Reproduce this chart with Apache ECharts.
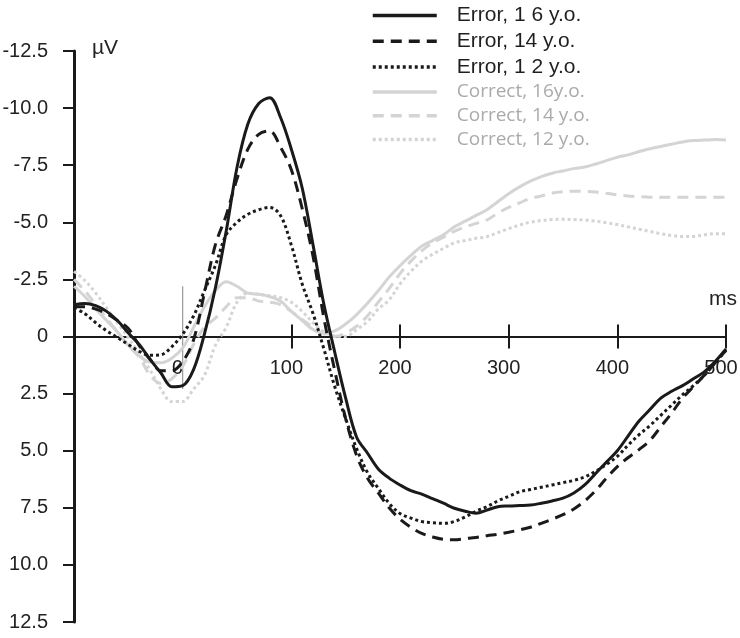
<!DOCTYPE html>
<html><head><meta charset="utf-8">
<script src="https://cdn.jsdelivr.net/npm/echarts@6/dist/echarts.min.js"></script>
<style>html,body{margin:0;padding:0;background:#fff}#c{width:740px;height:638px}</style>
</head><body><div id="c"></div>
<script>
const times = [-100,-90,-80,-70,-60,-50,-40,-30,-20,-10,0,10,20,30,40,50,60,70,80,90,100,110,120,130,140,150,160,170,180,190,200,210,220,230,240,250,260,270,280,290,300,310,320,330,340,350,360,370,380,390,400,410,420,430,440,450,460,470,480,490,500];
const error16 = [-1.4,-1.45,-1.35,-1.1,-0.7,-0.15,0.35,1.0,1.6,2.2,2.15,1.45,-0.1,-2.1,-4.6,-7.4,-9.3,-10.2,-10.45,-9.6,-8.2,-6.5,-4.0,-1.4,0.7,2.7,4.4,5.1,5.8,6.2,6.5,6.75,6.9,7.1,7.3,7.52,7.65,7.74,7.6,7.45,7.42,7.4,7.38,7.3,7.2,7.08,6.85,6.5,6.0,5.5,5.0,4.35,3.7,3.2,2.7,2.4,2.15,1.85,1.55,1.1,0.55];
const error14 = [-1.3,-1.3,-1.2,-1.0,-0.7,-0.35,0.4,1.0,1.5,1.5,1.1,0.15,-1.9,-4.0,-5.3,-6.9,-8.2,-8.85,-9.0,-8.3,-7.3,-5.6,-3.5,-0.8,1.5,3.6,5.2,6.2,6.85,7.5,8.0,8.35,8.62,8.78,8.88,8.9,8.85,8.8,8.72,8.66,8.57,8.47,8.35,8.18,8.0,7.8,7.55,7.2,6.75,6.2,5.7,5.3,4.95,4.55,3.95,3.35,2.7,2.2,1.7,1.15,0.6];
const error12 = [-1.25,-1.0,-0.6,-0.25,0.05,0.35,0.65,0.82,0.8,0.45,-0.1,-0.9,-2.0,-3.1,-4.45,-5.0,-5.35,-5.55,-5.65,-5.3,-4.0,-2.3,-1.0,0.55,2.2,3.6,4.9,5.95,6.65,7.3,7.75,7.95,8.1,8.15,8.18,8.1,7.9,7.65,7.45,7.2,7.0,6.8,6.7,6.6,6.5,6.4,6.3,6.15,5.9,5.6,5.25,4.75,4.3,3.9,3.45,3.0,2.55,2.15,1.7,1.15,0.6];
const correct16 = [-2.2,-1.75,-1.2,-0.7,-0.2,0.38,0.85,1.12,1.15,0.95,0.5,-0.4,-1.3,-2.0,-2.4,-2.2,-1.9,-1.85,-1.75,-1.55,-1.1,-0.7,-0.3,-0.15,-0.25,-0.55,-0.95,-1.45,-2.0,-2.6,-3.1,-3.55,-3.95,-4.2,-4.45,-4.8,-5.05,-5.3,-5.55,-5.9,-6.25,-6.55,-6.8,-7.0,-7.15,-7.25,-7.35,-7.42,-7.55,-7.7,-7.85,-7.95,-8.1,-8.22,-8.32,-8.42,-8.52,-8.58,-8.6,-8.62,-8.6];
const correct14 = [-2.5,-2.0,-1.4,-0.8,-0.2,0.4,0.9,1.7,2.05,1.85,1.3,0.35,-0.4,-0.8,-1.3,-1.7,-1.7,-1.55,-1.5,-1.4,-1.1,-0.75,-0.4,-0.1,0.0,-0.15,-0.45,-0.9,-1.5,-2.1,-2.75,-3.3,-3.75,-4.1,-4.35,-4.6,-4.8,-4.95,-5.1,-5.4,-5.65,-5.85,-6.05,-6.15,-6.28,-6.34,-6.36,-6.35,-6.33,-6.27,-6.2,-6.15,-6.12,-6.1,-6.1,-6.1,-6.1,-6.1,-6.1,-6.1,-6.1];
const correct12 = [-2.85,-2.45,-1.9,-1.25,-0.6,0.05,0.75,1.47,2.3,2.85,2.85,2.3,1.7,0.4,-0.4,-1.5,-1.9,-1.85,-1.78,-1.7,-1.5,-1.1,-0.6,-0.2,-0.02,0.0,-0.3,-0.65,-1.2,-1.6,-2.3,-2.85,-3.3,-3.6,-3.86,-4.1,-4.2,-4.3,-4.37,-4.55,-4.72,-4.88,-5.0,-5.08,-5.12,-5.13,-5.12,-5.1,-5.05,-4.98,-4.9,-4.8,-4.7,-4.6,-4.5,-4.42,-4.38,-4.38,-4.45,-4.5,-4.5];
const stimulusMarker = [[0,-2.2],[0,2.3]];
const seriesNames = ['Error, 1 6 y.o.','Error, 14 y.o.','Error, 1 2 y.o.','Correct, 16y.o.','Correct, 14 y.o.','Correct, 12 y.o.'];
const xTickValues = [100,200,300,400,500];
const xLabelValues = [0,100,200,300,400,500];
const yTickValues = [-12.5,-10,-7.5,-5,-2.5,0,2.5,5,7.5,10,12.5];

const zip = v => times.map((t,i)=>[t,v[i]]);
const BLACK = '#1a1a1a', GRAY = '#d4d4d4';
const DASH = [11,7], DOT = [3,3];
const valuesList = [error16,error14,error12,correct16,correct14,correct12];
const styles = [
  {c:BLACK,t:'solid',z:5},{c:BLACK,t:DASH,z:5},{c:BLACK,t:DOT,z:5},
  {c:GRAY,t:'solid',z:2},{c:GRAY,t:DASH,z:2},{c:GRAY,t:DOT,z:2}
];
const series = valuesList.map((v,i)=>({
  name: seriesNames[i], type:'line', data: zip(v), showSymbol:false, symbol:'none',
  smooth:0.35, z: styles[i].z,
  lineStyle:{color:styles[i].c,width:3,type:styles[i].t},
  itemStyle:{color:styles[i].c}
}));
series.push({type:'line',data:stimulusMarker,symbol:'none',z:1,
  lineStyle:{color:'#999',width:1.2},silent:true});

const FONT = 'Liberation Sans';
const GRID = {left:74,right:14,top:51,bottom:16};
const chart = echarts.init(document.getElementById('c'),null,{renderer:'canvas'});
chart.setOption({
  animation:false,
  backgroundColor:'#fff',
  grid:Object.assign({containLabel:false,outerBoundsMode:'none'},GRID),
  legend:{
    orient:'vertical',left:366,top:0,itemWidth:64,itemHeight:20,itemGap:4.8,
    itemStyle:{opacity:0},
    lineStyle:{width:3.5},
    data: seriesNames.map((n,i)=>({name:n,textStyle:{
      color: i<3?'#1f1f1f':'#aaaaaa',
      fontFamily: i<3?FONT:'Open Sans',fontSize:i<3?21:19,padding:[0,0,0,15]}})),
    textStyle:{fontSize:20}
  },
  xAxis:[{
    type:'value',min:-100,max:500,interval:100,position:'bottom',offset:0,
    axisLine:{onZero:false,lineStyle:{color:'#1a1a1a',width:2}},
    axisTick:{show:true,length:12,customValues:xTickValues,lineStyle:{color:'#1a1a1a',width:2}},
    axisLabel:{show:true,margin:22,color:'#222',fontSize:20,fontFamily:FONT,
      padding:[0,10,0,0],customValues:xLabelValues},
    splitLine:{show:false}
  },{
    type:'value',min:-100,max:500,interval:100,position:'top',
    axisLine:{onZero:true,show:false},
    axisTick:{show:true,inside:false,length:12,customValues:xTickValues,lineStyle:{color:'#1a1a1a',width:2}},
    axisLabel:{show:false},splitLine:{show:false}
  }],
  yAxis:[{
    type:'value',inverse:true,min:-12.5,max:12.5,interval:2.5,
    axisLine:{show:true,onZero:false,lineStyle:{color:'#1a1a1a',width:3}},
    axisTick:{show:true,length:11,customValues:yTickValues,lineStyle:{color:'#1a1a1a',width:2}},
    axisLabel:{customValues:yTickValues,margin:26,color:'#222',fontSize:20,fontFamily:FONT,
      formatter:v=> v===0?'0':v.toFixed(1)},
    splitLine:{show:false}
  }],
  graphic:[
    {type:'text',left:92,top:38,style:{text:'µV',fontSize:21,fontFamily:FONT,fill:'#222'}},
    {type:'text',left:709,top:289,style:{text:'ms',fontSize:21,fontFamily:FONT,fill:'#222'}}
  ],
  series: series
});
// place the labelled x axis on the zero line of the y axis
const zeroY = chart.convertToPixel({yAxisIndex:0}, 0);
const bottomY = chart.getHeight() - GRID.bottom;
chart.setOption({xAxis:[{offset: -(bottomY - zeroY)},{}]});
</script></body></html>
